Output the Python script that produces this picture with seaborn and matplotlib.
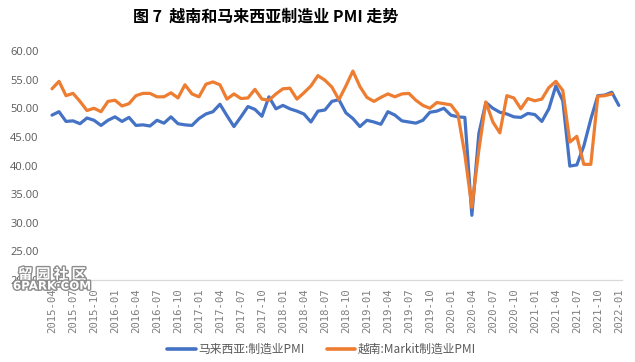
import numpy as np
import pandas as pd
import matplotlib.pyplot as plt
import seaborn as sns
from matplotlib import patheffects

# Data: monthly PMI, 2015-04 .. 2022-01
months = pd.period_range("2015-04", "2022-01", freq="M").strftime("%Y-%m").tolist()

malaysia = [48.8, 49.4, 47.7, 47.8, 47.3, 48.3, 47.9, 47.0, 47.9,
            48.5, 47.7, 48.4, 47.0, 47.1, 46.9, 47.9, 47.4, 48.5, 47.3, 47.1, 47.0,
            48.2, 49.0, 49.4, 50.7, 48.7, 46.8, 48.5, 50.3, 49.8, 48.6, 52.0, 49.9,
            50.5, 49.9, 49.5, 49.0, 47.6, 49.5, 49.7, 51.2, 51.5, 49.2, 48.2, 46.8,
            47.9, 47.6, 47.2, 49.4, 48.8, 47.8, 47.6, 47.4, 47.9, 49.3, 49.5, 50.0,
            48.8, 48.5, 48.4, 31.3, 45.6, 51.0, 50.0, 49.3, 49.0, 48.5, 48.4, 49.1,
            48.9, 47.7, 49.9, 53.9, 51.3, 39.9, 40.1, 43.4, 48.1, 52.2, 52.3, 52.8,
            50.5]

vietnam = [53.4, 54.7, 52.2, 52.6, 51.2, 49.6, 50.0, 49.4, 51.2,
           51.4, 50.4, 50.8, 52.2, 52.6, 52.6, 52.0, 52.0, 52.7, 51.8, 54.1, 52.5,
           52.0, 54.2, 54.6, 54.1, 51.6, 52.5, 51.7, 51.8, 53.3, 51.6, 51.4, 52.5,
           53.4, 53.5, 51.6, 52.7, 53.9, 55.7, 54.9, 53.7, 51.5, 53.9, 56.5, 53.8,
           51.9, 51.2, 51.9, 52.5, 52.0, 52.5, 52.6, 51.4, 50.5, 50.0, 51.0, 50.8,
           50.6, 49.0, 41.9, 32.7, 42.7, 51.1, 47.6, 45.7, 52.2, 51.8, 49.9, 51.7,
           51.3, 51.6, 53.6, 54.7, 53.1, 44.1, 45.1, 40.2, 40.2, 52.1, 52.2, 52.5]

series_names = ["马来西亚:制造业PMI", "越南:Markit制造业PMI"]
colors = ["#4472C4", "#ED7D31"]

df = pd.DataFrame({
    "idx": np.arange(len(months)),
    "month": months,
    series_names[0]: malaysia,
    series_names[1]: vietnam + [np.nan],
})
long_df = df.melt(id_vars=["idx", "month"], value_vars=series_names,
                  var_name="series", value_name="pmi").dropna()

sns.set_style("white")
plt.rcParams["font.family"] = ["Noto Sans CJK SC", "DejaVu Sans"]

fig = plt.figure(figsize=(6.35, 3.62), dpi=100)
ax = fig.add_axes([0.0764, 0.2265, 0.9036, 0.6326])

sns.lineplot(data=long_df, x="idx", y="pmi", hue="series", hue_order=series_names,
             palette=colors, linewidth=2.3, ax=ax, legend=False)

ax.set_xlim(-0.5, len(months) - 0.5)
ax.set_ylim(20, 60)
ax.set_yticks(np.arange(20, 61, 5))
ax.set_yticklabels([f"{v:.2f}" for v in np.arange(20, 61, 5)],
                   fontsize=8, color="#595959", family=["Open Sans", "DejaVu Sans"])
tick_pos = np.arange(0, len(months), 3)
ax.set_xticks(tick_pos)
ax.set_xticklabels([months[i] for i in tick_pos], rotation=90, fontsize=7.7,
                   color="#7f7f7f", family=["DejaVu Sans Mono"])
ax.tick_params(axis="y", length=0, pad=7)
ax.tick_params(axis="x", length=4, width=0.8, color="#d9d9d9", pad=2)
ax.set_xlabel("")
ax.set_ylabel("")
for side in ["top", "right", "left"]:
    ax.spines[side].set_visible(False)
ax.spines["bottom"].set_color("#d9d9d9")
ax.spines["bottom"].set_linewidth(0.9)

fig.text(0.419, 0.953, "图 7  越南和马来西亚制造业 PMI 走势", ha="center", va="center",
         fontsize=11.5, fontweight="bold", color="black")

handles = [plt.Line2D([], [], color=c, linewidth=2.6) for c in colors]
fig.legend(handles, series_names, loc="center", bbox_to_anchor=(0.506, 0.035), ncol=2,
           frameon=False, fontsize=8.5, handlelength=2.4, handletextpad=0.2,
           columnspacing=1.9, labelcolor="#595959")

# site watermark
pe = [patheffects.withStroke(linewidth=2, foreground="#8c8c8c")]
fig.text(0.082, 0.243, "留 园 社 区", ha="center", va="center", fontsize=10.5,
         fontweight="bold", color="white", path_effects=pe)
fig.text(0.082, 0.21, "6PARK·COM", ha="center", va="center", fontsize=8.5,
         fontweight="bold", color="white", path_effects=pe,
         family=["DejaVu Sans"])

fig.savefig("out.png", dpi=100)
